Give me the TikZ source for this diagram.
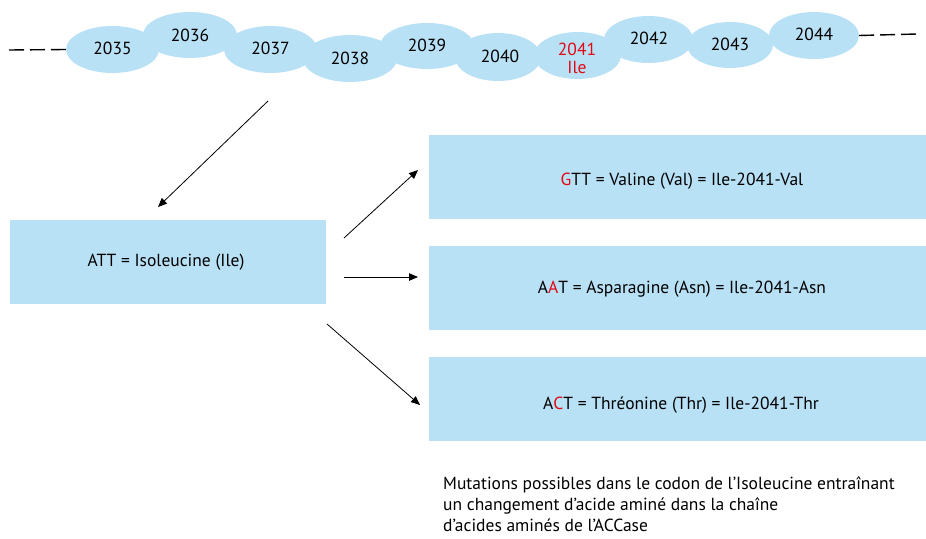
\documentclass[tikz,border=0pt]{standalone}
\usepackage{fontspec}
\setmainfont{PT Sans}
\usetikzlibrary{arrows.meta,shapes.geometric}
\definecolor{lblue}{HTML}{B9E1F6}
\definecolor{mred}{HTML}{E30613}
\tikzset{
  ell/.style={ellipse, fill=lblue, inner sep=0pt, minimum width=#1, minimum height=47pt},
  boxn/.style={fill=lblue, inner sep=0pt, minimum height=84pt},
  arr/.style={draw=black, line width=0.8pt, -{Triangle[length=9pt,width=7.5pt]}},
  dsh/.style={draw=black, line width=1.4pt, dash pattern=on 15pt off 6pt},
  txt/.style={font=\fontsize{17.5}{20}\selectfont, inner sep=0pt}
}
\begin{document}
\begin{tikzpicture}[x=1pt,y=-1pt]
\useasboundingbox (0,0) rectangle (926,538);
% ellipses
\node[ell=93pt, minimum height=47pt] (e35) at (112.5,49.5) {};
\node[ell=94pt, minimum height=46pt] (e36) at (190,35) {};
\node[ell=93pt, minimum height=47pt] (e37) at (270.5,49.5) {};
\node[ell=94pt, minimum height=47pt] (e38) at (350,58.5) {};
\node[ell=94pt, minimum height=46pt] (e39) at (427,46) {};
\node[ell=86pt, minimum height=48pt] (e40) at (498,57) {};
\node[ell=87pt, minimum height=47pt] (e41) at (577.5,55.5) {};
\node[ell=89pt, minimum height=47pt] (e42) at (648.5,39.5) {};
\node[ell=86pt, minimum height=46pt] (e43) at (730,45) {};
\node[ell=90pt, minimum height=47pt] (e44) at (814,35.5) {};
\node[txt] (t35) at (112.5,48.5) {2035};
\node[txt] (t36) at (190,35) {2036};
\node[txt] (t37) at (270.5,48.5) {2037};
\node[txt] (t38) at (350,58) {2038};
\node[txt] (t39) at (427,45) {2039};
\node[txt] (t40) at (500,56.5) {2040};
\node[txt, text=mred, align=center, font=\fontsize{17.5}{18}\selectfont] (t41) at (577,58) {2041\\Ile};
\node[txt] (t42) at (649,38) {2042};
\node[txt] (t43) at (730,44.5) {2043};
\node[txt] (t44) at (814,34.5) {2044};
% dashes
\coordinate (dl) at (9,50);
\coordinate (dr) at (917,34);
\draw[dsh] (dl) -- (e35.west);
\draw[dsh] (e44.east) -- (dr);
% boxes
\node[boxn, minimum width=316pt] (ile) at (168,262) {};
\node[boxn, minimum width=497pt] (val) at (677.5,177) {};
\node[boxn, minimum width=497pt] (asn) at (677.5,288) {};
\node[boxn, minimum width=497pt] (thr) at (677.5,399) {};
\node[txt] (tile) at (166,262) {ATT = Isoleucine (Ile)};
\node[txt] (tval) at (682,181.5) {\textcolor{mred}{G}TT = Valine (Val) = Ile-2041-Val};
\node[txt] (tasn) at (682,289.5) {A\textcolor{mred}{A}T = Asparagine (Asn) = Ile-2041-Asn};
\node[txt] (tthr) at (681,405) {A\textcolor{mred}{C}T = Thréonine (Thr) = Ile-2041-Thr};
% arrows
\coordinate (a0s) at (268,101);
\coordinate (a0e) at (158,207);
\coordinate (a1s) at (344,238);
\coordinate (a1e) at (418,170);
\coordinate (a2s) at (344,277);
\coordinate (a2e) at (418,277);
\coordinate (a3s) at (327,324);
\coordinate (a3e) at (420,405);
\draw[arr] (a0s) -- (a0e);
\draw[arr] (a1s) -- (a1e);
\draw[arr] (a2s) -- (a2e);
\draw[arr] (a3s) -- (a3e);
% caption
\node[txt, anchor=base west, align=left, font=\fontsize{17.5}{21}\selectfont] (cap) at (443,531) {Mutations possibles dans le codon de l’Isoleucine entraînant\\un changement d’acide aminé dans la chaîne\\d’acides aminés de l’ACCase};
\end{tikzpicture}
\end{document}
